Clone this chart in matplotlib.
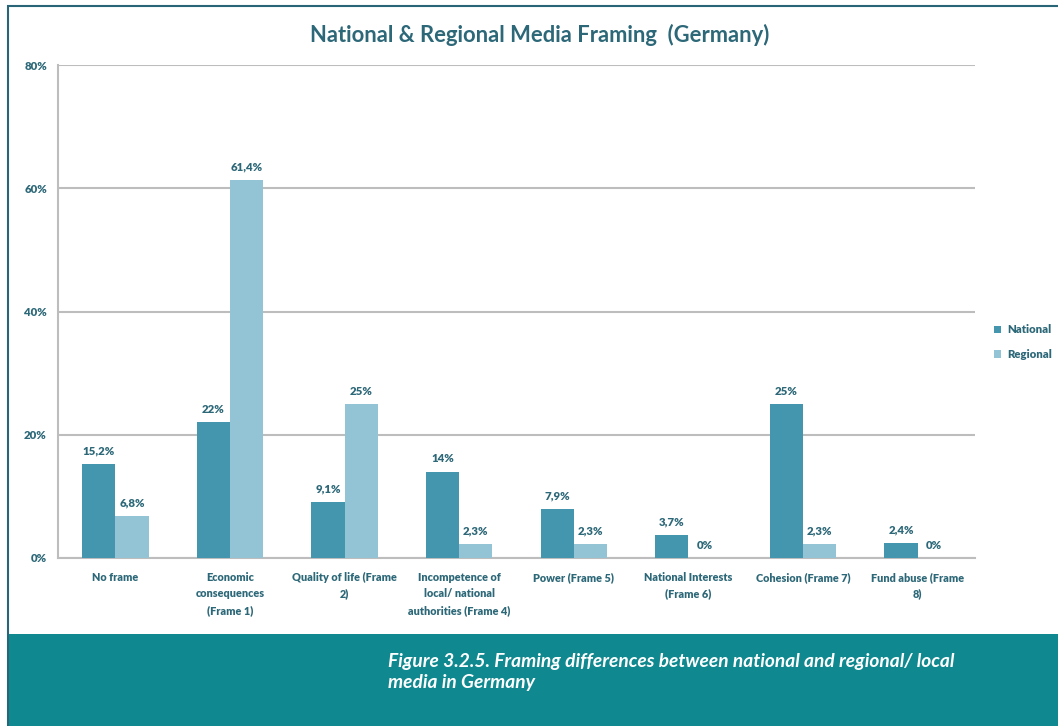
import numpy as np
import matplotlib.pyplot as plt
from matplotlib.patches import Rectangle

categories = ["No frame", "Economic\nconsequences\n(Frame 1)", "Quality of life (Frame\n2)",
              "Incompetence of\nlocal/ national\nauthorities (Frame 4)", "Power (Frame 5)",
              "National Interests\n(Frame 6)", "Cohesion (Frame 7)", "Fund abuse (Frame\n8)"]
national = [15.2, 22, 9.1, 14, 7.9, 3.7, 25, 2.4]
regional = [6.8, 61.4, 25, 2.3, 2.3, 0, 2.3, 0]
national_labels = ["15,2%", "22%", "9,1%", "14%", "7,9%", "3,7%", "25%", "2,4%"]
regional_labels = ["6,8%", "61,4%", "25%", "2,3%", "2,3%", "0%", "2,3%", "0%"]
yticks = [0, 20, 40, 60, 80]

c_nat = "#4496ae"
c_reg = "#93c4d6"
c_text = "#2d6878"
c_band = "#0f898f"

plt.rcParams['font.family'] = ['Lato', 'DejaVu Sans']

fig = plt.figure(figsize=(10.58, 7.26), dpi=100)

# panel border and bottom band
fig.patches.append(Rectangle((8 / 1058, 0), 1.0, 1 - 6 / 726, transform=fig.transFigure,
                             facecolor="white", edgecolor="#2a6577", linewidth=1.5, zorder=0))
fig.patches.append(Rectangle((9 / 1058, 0), 1.0, 92 / 726, transform=fig.transFigure,
                             facecolor=c_band, edgecolor="none", zorder=1))

ax = fig.add_axes([58 / 1058, 1 - 558 / 726, 917 / 1058, 493 / 726])
ax.set_zorder(5)
x = np.arange(len(categories))
w = 0.29
ax.bar(x - w / 2, national, w, color=c_nat, label="National", zorder=3)
ax.bar(x + w / 2, regional, w, color=c_reg, label="Regional", zorder=3)

small = 8.2
for i in range(len(categories)):
    ax.text(x[i] - w / 2, national[i] + 1.2, national_labels[i], ha="center", va="bottom",
            fontsize=small, fontweight="heavy", color=c_text)
    ax.text(x[i] + w / 2, regional[i] + 1.2, regional_labels[i], ha="center", va="bottom",
            fontsize=small, fontweight="heavy", color=c_text)

ax.set_xlim(-0.5, len(categories) - 0.5)
ax.set_ylim(0, 80)
ax.set_yticks(yticks)
ax.set_yticklabels([f"{v}%" for v in yticks], fontsize=small, fontweight="heavy", color=c_text)
ax.set_xticks(x)
ax.set_xticklabels(categories, fontsize=7.8, fontweight="heavy", color=c_text, linespacing=1.6)
ax.tick_params(axis="x", length=0, pad=10)
ax.tick_params(axis="y", length=0, pad=8)
ax.grid(axis="y", color="#bdbdbd", linewidth=1.5, zorder=0)
for s in ["top", "right"]:
    ax.spines[s].set_visible(False)
for s in ["left", "bottom"]:
    ax.spines[s].set_color("#bdbdbd")
    ax.spines[s].set_linewidth(1.5)
ax.set_facecolor("none")

ax.legend(loc="center left", bbox_to_anchor=(1.01, 0.438), frameon=False, handlelength=0.6,
          handleheight=0.6, handletextpad=0.5, labelspacing=1.2,
          prop={"size": small, "weight": "heavy"}, labelcolor=c_text)

fig.text(540 / 1058, 1 - 35 / 726, "National & Regional Media Framing  (Germany)", ha="center",
         va="center", fontsize=15.8, fontweight="bold", color=c_text)
fig.text(388 / 1058, 1 - 672 / 726,
         "Figure 3.2.5. Framing differences between national and regional/ local\nmedia in Germany",
         ha="left", va="center", fontsize=13.8, fontweight="bold", style="italic", color="white",
         linespacing=1.3)

fig.savefig("out.png", dpi=100)
